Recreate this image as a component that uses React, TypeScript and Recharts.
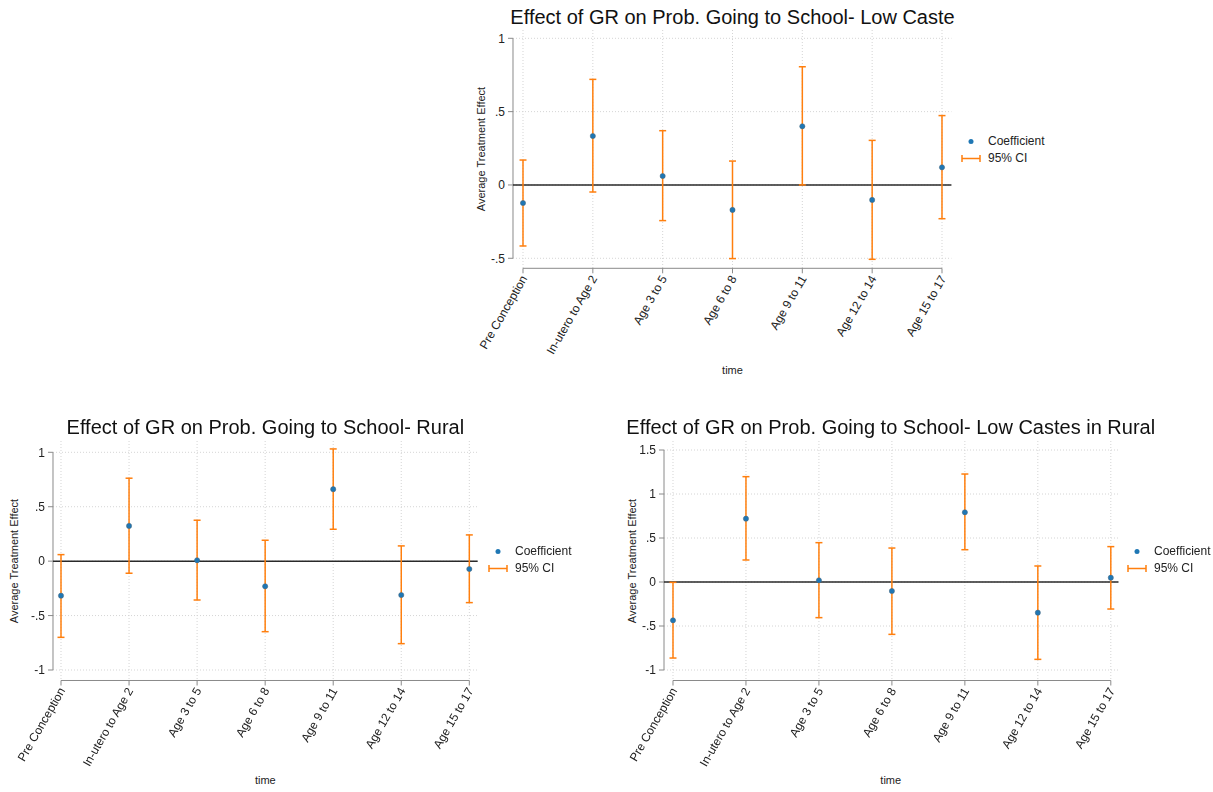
import React from "react";
import {
  ComposedChart,
  Scatter,
  ErrorBar,
  XAxis,
  YAxis,
  CartesianGrid,
  ReferenceLine,
} from "recharts";

const categories = [
  "Pre Conception",
  "In-utero to Age 2",
  "Age 3 to 5",
  "Age 6 to 8",
  "Age 9 to 11",
  "Age 12 to 14",
  "Age 15 to 17",
];

// Low caste
const lowCasteCoef = [-0.123, 0.334, 0.061, -0.17, 0.4, -0.102, 0.12];
const lowCasteLow = [-0.416, -0.048, -0.243, -0.502, 0.0, -0.507, -0.23];
const lowCasteHigh = [0.17, 0.72, 0.37, 0.163, 0.806, 0.304, 0.473];

// Rural
const ruralCoef = [-0.317, 0.324, 0.008, -0.231, 0.661, -0.311, -0.072];
const ruralLow = [-0.7, -0.111, -0.357, -0.648, 0.293, -0.758, -0.381];
const ruralHigh = [0.06, 0.762, 0.376, 0.192, 1.031, 0.14, 0.241];

// Low castes in rural
const lcRuralCoef = [-0.436, 0.72, 0.019, -0.102, 0.792, -0.348, 0.049];
const lcRuralLow = [-0.864, 0.25, -0.405, -0.595, 0.367, -0.879, -0.307];
const lcRuralHigh = [-0.004, 1.197, 0.447, 0.386, 1.227, 0.182, 0.402];

const FONT = '"Liberation Sans", Arial, Helvetica, sans-serif';
const BLUE = "#1f77b4";
const ORANGE = "#ff7f0e";
const AXIS = "#8a8a8a";
const YW = 40;
const XH = 110;
const MT = 10;
const MR = 12;

const buildRows = (coef: number[], low: number[], high: number[]) =>
  coef.map((c, i) => ({ x: i, coef: c, err: [c - low[i], high[i] - c] }));

const fmtY = (v: number) =>
  v === 0 ? "0" : String(v).replace(/^(-?)0\./, "$1.");

const XTick = (props: any) => {
  const { x, y, payload } = props;
  return (
    <g transform={`translate(${x + 1},${y + 1})`}>
      <text
        transform="rotate(-60)"
        textAnchor="end"
        dy="0.35em"
        fontSize={12}
        fontFamily={FONT}
        fill="#222"
      >
        {categories[payload.value]}
      </text>
    </g>
  );
};

const Legend = ({ left, top }: { left: number; top: number }) => (
  <div
    style={{
      position: "absolute",
      left,
      top,
      fontFamily: FONT,
      fontSize: 12,
      color: "#222",
      lineHeight: "17px",
    }}
  >
    <div style={{ display: "flex", alignItems: "center" }}>
      <svg width={24} height={17}>
        <circle cx={10} cy={8.5} r={2.5} fill={BLUE} />
      </svg>
      <span style={{ marginLeft: 3 }}>Coefficient</span>
    </div>
    <div style={{ display: "flex", alignItems: "center" }}>
      <svg width={24} height={17}>
        <line x1={1} y1={8.5} x2={19} y2={8.5} stroke={ORANGE} strokeWidth={1.5} />
        <line x1={1} y1={5} x2={1} y2={12} stroke={ORANGE} strokeWidth={1.5} />
        <line x1={19} y1={5} x2={19} y2={12} stroke={ORANGE} strokeWidth={1.5} />
      </svg>
      <span style={{ marginLeft: 3 }}>95% CI</span>
    </div>
  </div>
);

type PanelProps = {
  title: string;
  rows: { x: number; coef: number; err: number[] }[];
  plotLeft: number;
  plotTop: number;
  plotW: number;
  plotH: number;
  xDomain: [number, number];
  yDomain: [number, number];
  yTicks: number[];
  titleY: number;
  yLabelX: number;
  timeY: number;
  legendX: number;
  legendY: number;
};

function Panel(p: PanelProps) {
  const cx = p.plotLeft + p.plotW / 2;
  const cy = p.plotTop + p.plotH / 2;
  const yMin = p.yTicks[0];
  const yMax = p.yTicks[p.yTicks.length - 1];
  return (
    <>
      <div
        style={{
          position: "absolute",
          left: cx - 300,
          width: 600,
          top: p.titleY - 13,
          textAlign: "center",
          fontFamily: FONT,
          fontSize: 20,
          color: "#111",
          lineHeight: "26px",
          whiteSpace: "nowrap",
        }}
      >
        {p.title}
      </div>
      <div
        style={{
          position: "absolute",
          left: p.yLabelX - 100,
          top: cy - 8,
          width: 200,
          height: 16,
          lineHeight: "16px",
          textAlign: "center",
          transform: "rotate(-90deg)",
          fontFamily: FONT,
          fontSize: 11,
          color: "#222",
          whiteSpace: "nowrap",
        }}
      >
        Average Treatment Effect
      </div>
      <div
        style={{
          position: "absolute",
          left: cx - 50,
          width: 100,
          top: p.timeY - 8,
          lineHeight: "16px",
          textAlign: "center",
          fontFamily: FONT,
          fontSize: 11,
          color: "#222",
        }}
      >
        time
      </div>
      <div style={{ position: "absolute", left: p.plotLeft - YW, top: p.plotTop - MT }}>
        <ComposedChart
          width={YW + p.plotW + MR}
          height={MT + p.plotH + XH}
          data={p.rows}
          margin={{ top: MT, right: MR, bottom: 0, left: 0 }}
        >
          <CartesianGrid
            stroke="#d4d4d4"
            strokeDasharray="1 2"
            horizontalValues={p.yTicks}
            verticalValues={[0, 1, 2, 3, 4, 5, 6]}
          />
          <XAxis
            type="number"
            dataKey="x"
            domain={p.xDomain}
            allowDataOverflow
            ticks={[0, 1, 2, 3, 4, 5, 6]}
            interval={0}
            height={XH}
            axisLine={false}
            tickLine={{ stroke: AXIS }}
            tickSize={5}
            tick={<XTick />}
          />
          <YAxis
            type="number"
            dataKey="coef"
            domain={p.yDomain}
            allowDataOverflow
            ticks={p.yTicks}
            interval={0}
            width={YW}
            axisLine={false}
            tickLine={{ stroke: AXIS }}
            tickSize={5}
            tickMargin={3}
            tickFormatter={fmtY}
            tick={{ fontSize: 12, fontFamily: FONT, fill: "#222" }}
          />
          <ReferenceLine
            segment={[
              { x: p.xDomain[0], y: yMin },
              { x: p.xDomain[0], y: yMax },
            ]}
            stroke={AXIS}
            strokeWidth={1}
            ifOverflow="visible"
          />
          <ReferenceLine
            segment={[
              { x: 0, y: p.yDomain[0] },
              { x: 6, y: p.yDomain[0] },
            ]}
            stroke={AXIS}
            strokeWidth={1}
            ifOverflow="visible"
          />
          <ReferenceLine y={0} stroke="#2a2a2a" strokeWidth={1.5} ifOverflow="visible" />
          <Scatter
            data={p.rows}
            dataKey="coef"
            isAnimationActive={false}
            shape={(s: any) => (
              <circle cx={s.cx} cy={s.cy} r={2.6} fill={BLUE} stroke="#4a6578" strokeWidth={0.5} />
            )}
          >
            <ErrorBar
              dataKey="err"
              direction="y"
              width={3.5}
              stroke={ORANGE}
              strokeWidth={1.5}
              isAnimationActive={false}
            />
          </Scatter>
        </ComposedChart>
      </div>
      <Legend left={p.legendX} top={p.legendY - 8.5} />
    </>
  );
}

export default function App() {
  return (
    <div
      style={{
        position: "fixed",
        left: 0,
        top: 0,
        width: 1213,
        height: 792,
        background: "#fff",
      }}
    >
      <Panel
        title="Effect of GR on Prob. Going to School- Low Caste"
        rows={buildRows(lowCasteCoef, lowCasteLow, lowCasteHigh)}
        plotLeft={513.3}
        plotTop={30}
        plotW={438.4}
        plotH={238.3}
        xDomain={[-0.1432, 6.1346]}
        yDomain={[-0.5682, 1.0566]}
        yTicks={[-0.5, 0, 0.5, 1]}
        titleY={17}
        yLabelX={481}
        timeY={370}
        legendX={961}
        legendY={141}
      />
      <Panel
        title="Effect of GR on Prob. Going to School- Rural"
        rows={buildRows(ruralCoef, ruralLow, ruralHigh)}
        plotLeft={53}
        plotTop={441}
        plotW={424.7}
        plotH={239.5}
        xDomain={[-0.1176, 6.123]}
        yDomain={[-1.0965, 1.1038]}
        yTicks={[-1, -0.5, 0, 0.5, 1]}
        titleY={427}
        yLabelX={14}
        timeY={780}
        legendX={488}
        legendY={551}
      />
      <Panel
        title="Effect of GR on Prob. Going to School- Low Castes in Rural"
        rows={buildRows(lcRuralCoef, lcRuralLow, lcRuralHigh)}
        plotLeft={663.5}
        plotTop={441}
        plotW={454.5}
        plotH={239.5}
        xDomain={[-0.1233, 6.1055]}
        yDomain={[-1.1193, 1.6023]}
        yTicks={[-1, -0.5, 0, 0.5, 1, 1.5]}
        titleY={427}
        yLabelX={632}
        timeY={780}
        legendX={1127}
        legendY={551}
      />
    </div>
  );
}
